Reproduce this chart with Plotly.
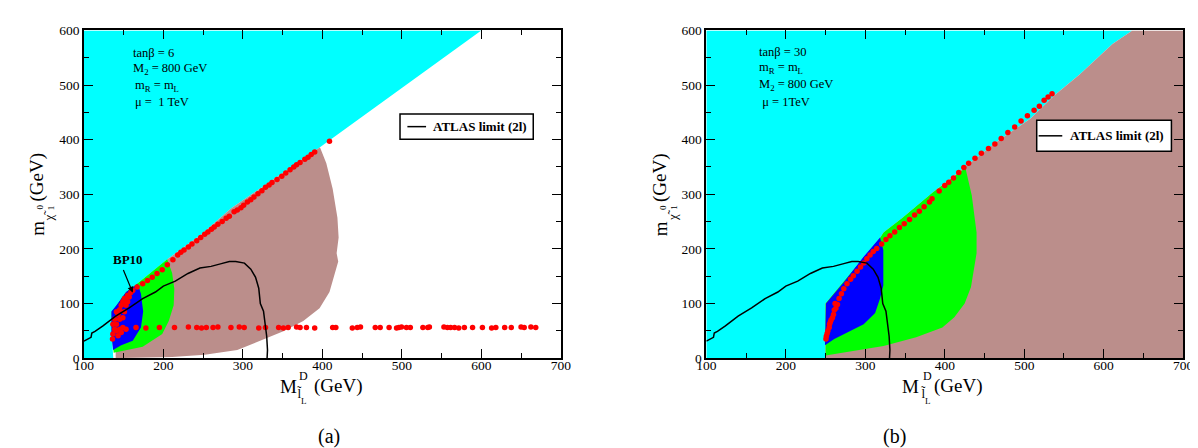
import plotly.graph_objects as go

# ---------------- data ----------------
# Panel (a): tan(beta)=6
CYAN_A_X = [100, 137, 135, 134.6, 141, 153, 167.6, 205, 248, 285, 397, 600, 100]
CYAN_A_Y = [0, 0, 45, 85, 97, 121, 137, 181, 227, 274, 386, 600, 600]

BROWN_A_X = [140, 205, 248, 285, 397, 405, 413, 419, 420.5, 418, 420, 417, 409, 396.5, 376, 351, 322, 293, 252, 211, 140]
BROWN_A_Y = [10, 181, 227, 274, 386, 357, 310, 257, 221, 192, 177, 162, 121, 91.5, 68, 49, 32, 15, 6, 2, 0]

GREEN_A_X = [137.5, 153, 174, 198.6, 206.8, 213, 213.8, 211, 204.8, 167.6, 153, 141, 134.6, 135]
GREEN_A_Y = [10, 15, 21, 44, 68, 97, 127, 156, 181, 137, 121, 97, 85, 40]

BLUE_A_X = [167.6, 171.8, 174.6, 171.8, 161.5, 147, 136.7, 134.6, 134.6, 141, 153]
BLUE_A_Y = [136, 118, 85.5, 56, 32, 23.5, 15, 44, 85.5, 97, 121]

DIAG_A_X = [167, 174, 180, 186, 192, 198.6, 205, 212, 218, 222, 226, 231.5, 236, 242, 247, 252, 256,
            260.5, 264, 268.6, 274, 279, 283, 289, 293, 297.6, 301, 305.7, 310, 314, 319, 324, 328.5,
            333, 336.7, 343, 349, 354, 359.4, 364, 367.6, 372, 378, 382, 386, 390.4, 409]
DIAG_A_Y = [130, 136, 142, 148, 155, 162, 171, 180, 189, 194, 198, 203.5, 209, 215, 221, 227, 231,
            236, 240, 245, 250, 256, 260, 268, 271, 275.5, 280, 286, 290, 295, 301, 306.7, 312.7,
            317, 321.5, 327, 333, 339, 345, 350, 354, 358, 364, 368, 373, 377.5, 397]

CLUSTER_A_X = [136, 136.5, 138.7, 141, 138.7, 143, 145, 147, 149, 151, 155, 159, 141, 145, 149, 147,
               143, 153, 136.5, 145, 149, 141, 151, 153, 155, 161.5, 157]
CLUSTER_A_Y = [35, 44, 53, 62, 71, 80, 88.5, 97, 103, 109, 115, 120, 50, 53, 56, 47,
               41, 53, 62, 71, 74, 85, 85, 97, 103, 124, 112]

ROW_A_X = [165.6, 178, 195, 214, 231.5, 242, 248, 254, 262.5, 268.6, 285, 295.5, 301.7, 320, 328.5,
           345, 351, 357, 367.6, 372, 380, 390.4, 413, 417, 437.7, 443.9, 448, 466.6, 472.8, 484,
           493.4, 496.3, 499.6, 505.8, 510.7, 526.5, 532.6, 534.7, 553, 557.3, 561.4, 566.4, 571.6,
           578.7, 589, 601.4, 613, 618.3, 629.4, 637.7, 650, 654, 662.4, 668.5]
ROW_A_Y = [56, 55, 56, 56, 57, 56, 55, 56, 56, 57, 56, 57, 56, 55, 56,
           56, 55, 56, 57, 56, 56, 55, 56, 56, 55, 56, 57, 56, 56, 56,
           55, 56, 57, 56, 56, 56, 56, 57, 57, 56, 56, 56, 55,
           56, 56, 56, 55, 56, 56, 56, 57, 56, 57, 56]

# Panel (b): tan(beta)=30
CYAN_B_X = [100, 250, 250, 273, 298, 319, 323, 347, 384.5, 426, 467, 508, 537, 570, 611, 636, 100]
CYAN_B_Y = [0, 0, 100, 139, 186, 221, 230, 257, 303, 351, 398, 439, 480, 520, 575, 600, 600]

BROWN_B_X = [250, 700, 700, 636, 611, 570, 537, 508, 467, 426, 384.5, 347, 323, 319, 250]
BROWN_B_Y = [0, 0, 600, 600, 575, 520, 480, 439, 398, 351, 303, 257, 230, 221, 100]

GREEN_B_X = [250, 282, 323, 364, 397, 412, 425, 433, 437, 440, 440, 437, 434, 426, 384.5, 347, 323, 319, 250]
GREEN_B_Y = [5, 12, 22, 38, 56, 75, 100, 130, 162, 192, 230, 260, 298, 348, 303, 257, 230, 221, 100]

BLUE_B_X = [249.3, 250.5, 273, 298, 318.6, 322.7, 322.7, 318.6, 312.4, 298, 277.3, 261]
BLUE_B_Y = [23.6, 100, 139, 186, 221, 198, 133, 109, 82.6, 62, 47, 35]

DIAG_B_X = [250.5, 251, 252, 253, 254.6, 255, 256, 257, 258.7, 260, 261, 262, 263, 265, 267, 270, 273,
            277, 281.5, 285, 289.7, 294, 298, 302, 306, 310, 314.4, 320.6, 326, 331, 337, 343, 349,
            355.7, 362, 368, 374, 380.7, 384, 393, 400, 405, 411, 417.6, 424, 430, 438, 446, 455,
            463, 471, 479.4, 488, 496, 504, 512.4, 519, 525, 530, 535]
DIAG_B_Y = [35, 40, 45, 50, 56, 62, 66, 70, 74, 80, 88, 100, 91.5, 98, 109, 118, 127,
            136, 144.6, 151, 159, 167, 174, 182, 189, 195, 200.5, 209, 217, 224, 231, 239, 246,
            254, 262, 269, 277, 286, 292, 306, 316, 322, 330, 340, 349, 357, 366, 375, 384,
            392, 402, 413, 423, 434, 444, 454, 461, 472, 478, 484]

# ATLAS limit (2l) contour (same in both panels)
ATLAS_X = [100, 105, 109, 110, 114, 124, 140, 157, 174, 190, 200, 215, 231, 246, 260, 273, 283, 291,
           302, 310, 316, 320, 322, 326, 328, 330, 331, 330.5]
ATLAS_Y = [31, 35, 38, 46, 49, 59, 77, 92, 109, 121, 132, 141, 155, 165, 168, 173, 177, 177,
           174, 163, 148, 128, 100, 86, 65, 40, 15, 0]

X_TICKS = [100, 200, 300, 400, 500, 600, 700]
Y_TICKS = [0, 100, 200, 300, 400, 500, 600]

PARAMS_A = ["tanβ = 6", "M<sub>2</sub> = 800 GeV", "m<sub>R</sub> = m<sub>L</sub>", "μ =  1 TeV"]
PARAMS_B = ["tanβ = 30", "m<sub>R</sub> = m<sub>L</sub>", "M<sub>2</sub> = 800 GeV", " μ = 1TeV"]

# ---------------- styling ----------------
W, H = 1198, 448
SERIF = "Liberation Serif"
CYAN, BROWN, GREEN, BLUE, RED = "#00ffff", "#bb8e8b", "#00ff00", "#0000ff", "#ff0000"


def px(x):
    return x / W


def py(y):
    return 1 - y / H


fig = go.Figure()


def poly(X, Y, color, xa, ya):
    fig.add_trace(go.Scatter(x=X, y=Y, fill="toself", fillcolor=color, mode="lines",
                             line=dict(width=0, color=color), hoverinfo="skip",
                             showlegend=False, xaxis=xa, yaxis=ya))


def dots(X, Y, xa, ya):
    fig.add_trace(go.Scatter(x=X, y=Y, mode="markers", marker=dict(color=RED, size=5.5),
                             hoverinfo="skip", showlegend=False, xaxis=xa, yaxis=ya))


def atlas(xa, ya):
    fig.add_trace(go.Scatter(x=ATLAS_X, y=ATLAS_Y, mode="lines", line=dict(color="black", width=1.5),
                             hoverinfo="skip", showlegend=False, xaxis=xa, yaxis=ya))


# panel (a)
poly(CYAN_A_X, CYAN_A_Y, CYAN, "x", "y")
poly(BROWN_A_X, BROWN_A_Y, BROWN, "x", "y")
poly(GREEN_A_X, GREEN_A_Y, GREEN, "x", "y")
poly(BLUE_A_X, BLUE_A_Y, BLUE, "x", "y")
dots(DIAG_A_X, DIAG_A_Y, "x", "y")
dots(CLUSTER_A_X, CLUSTER_A_Y, "x", "y")
dots(ROW_A_X, ROW_A_Y, "x", "y")
atlas("x", "y")

# panel (b)
poly(CYAN_B_X, CYAN_B_Y, CYAN, "x2", "y2")
poly(BROWN_B_X, BROWN_B_Y, BROWN, "x2", "y2")
poly(GREEN_B_X, GREEN_B_Y, GREEN, "x2", "y2")
poly(BLUE_B_X, BLUE_B_Y, BLUE, "x2", "y2")
dots(DIAG_B_X, DIAG_B_Y, "x2", "y2")
atlas("x2", "y2")

axis_common = dict(showline=True, linecolor="black", linewidth=1.5, mirror="allticks",
                   ticks="inside", ticklen=9, tickwidth=1.2, tickcolor="black",
                   showgrid=False, zeroline=False,
                   tickfont=dict(family=SERIF, size=13.5, color="black"),
                   minor=dict(ticks="inside", ticklen=5, tickwidth=1.2, tickcolor="black",
                              dtick=50, showgrid=False))

ydom = [py(355), py(16)]
fig.update_layout(
    width=W, height=H, margin=dict(l=0, r=0, t=0, b=0),
    paper_bgcolor="white", plot_bgcolor="white",
    font=dict(family=SERIF),
    xaxis=dict(domain=[px(67), px(552)], range=[100, 700], tickvals=X_TICKS, anchor="y",
               ticklabelstandoff=-6, **axis_common),
    yaxis=dict(domain=ydom, range=[0, 600], tickvals=Y_TICKS, anchor="x", **axis_common),
    xaxis2=dict(domain=[px(700), px(1185)], range=[100, 700], tickvals=X_TICKS, anchor="y2",
                ticklabelstandoff=-6, **axis_common),
    yaxis2=dict(domain=ydom, range=[0, 600], tickvals=Y_TICKS, anchor="x2", **axis_common),
)

ann = []
shapes = []


def text(x, y, s, size, xanchor="center", angle=0, bold=False):
    if bold:
        s = "<b>" + s + "</b>"
    ann.append(dict(x=px(x), y=py(y), xref="paper", yref="paper", text=s, showarrow=False,
                    xanchor=xanchor, yanchor="middle", textangle=angle,
                    font=dict(family=SERIF, size=size, color="black")))


# parameter blocks
for i, (s, yy) in enumerate(zip(PARAMS_A, [39, 56, 73, 90])):
    text(115 if i < 2 else 117, yy, s, 12.5, "left")
for i, (s, yy) in enumerate(zip(PARAMS_B, [38, 55, 72, 90])):
    text(752, yy, s, 12.5, "left")

# x-axis titles
for (mx, dx, lx, gx) in [(275.5, 290, 286, 298.5), (907.5, 925, 920.5, 929.5)]:
    text(mx, 384, "M", 19)
    text(dx, 374, "D", 12)
    text(lx, 392, "l\u0303", 13)
    text(lx + 5, 399.5, "L", 9)
    text(gx, 384, "(GeV)", 19, "left")

# y-axis titles (rotated)
for cx in [19.5, 653.5]:
    text(cx, 221, "m", 19, angle=-90)
    text(cx + 11.5, 207, "\u03c7\u0303", 13, angle=-90)
    text(cx + 3, 199, "0", 9, angle=-90)
    text(cx + 14, 199, "1", 9, angle=-90)
    text(cx, 168, "(GeV)", 19, angle=-90)

# panel labels
text(316, 436, "(a)", 20)
text(891, 436, "(b)", 20)

# BP10 label and arrow
text(112, 252.5, "BP10", 13, bold=True)
ann.append(dict(x=161.5, y=120, xref="x", yref="y", ax=-10, ay=-24, axref="pixel", ayref="pixel",
                text="", showarrow=True, arrowhead=2, arrowsize=1, arrowwidth=1.2, arrowcolor="black"))

# legend boxes
for (x0, y0, x1, y1, lx0, lx1, tx) in [(388.5, 102.5, 524, 128.5, 396, 415, 420),
                                        (1036, 109, 1173, 141, 1038, 1062, 1068)]:
    shapes.append(dict(type="rect", xref="paper", yref="paper", x0=px(x0), x1=px(x1), y0=py(y1), y1=py(y0),
                       line=dict(color="black", width=1.5), fillcolor="white", layer="above"))
    yc = (y0 + y1) / 2
    shapes.append(dict(type="line", xref="paper", yref="paper", x0=px(lx0), x1=px(lx1), y0=py(yc), y1=py(yc),
                       line=dict(color="black", width=1.5), layer="above"))
    text(tx, yc, "ATLAS limit (2l)", 13, "left", bold=True)

fig.update_layout(annotations=ann, shapes=shapes)
fig.write_html("out.html")
